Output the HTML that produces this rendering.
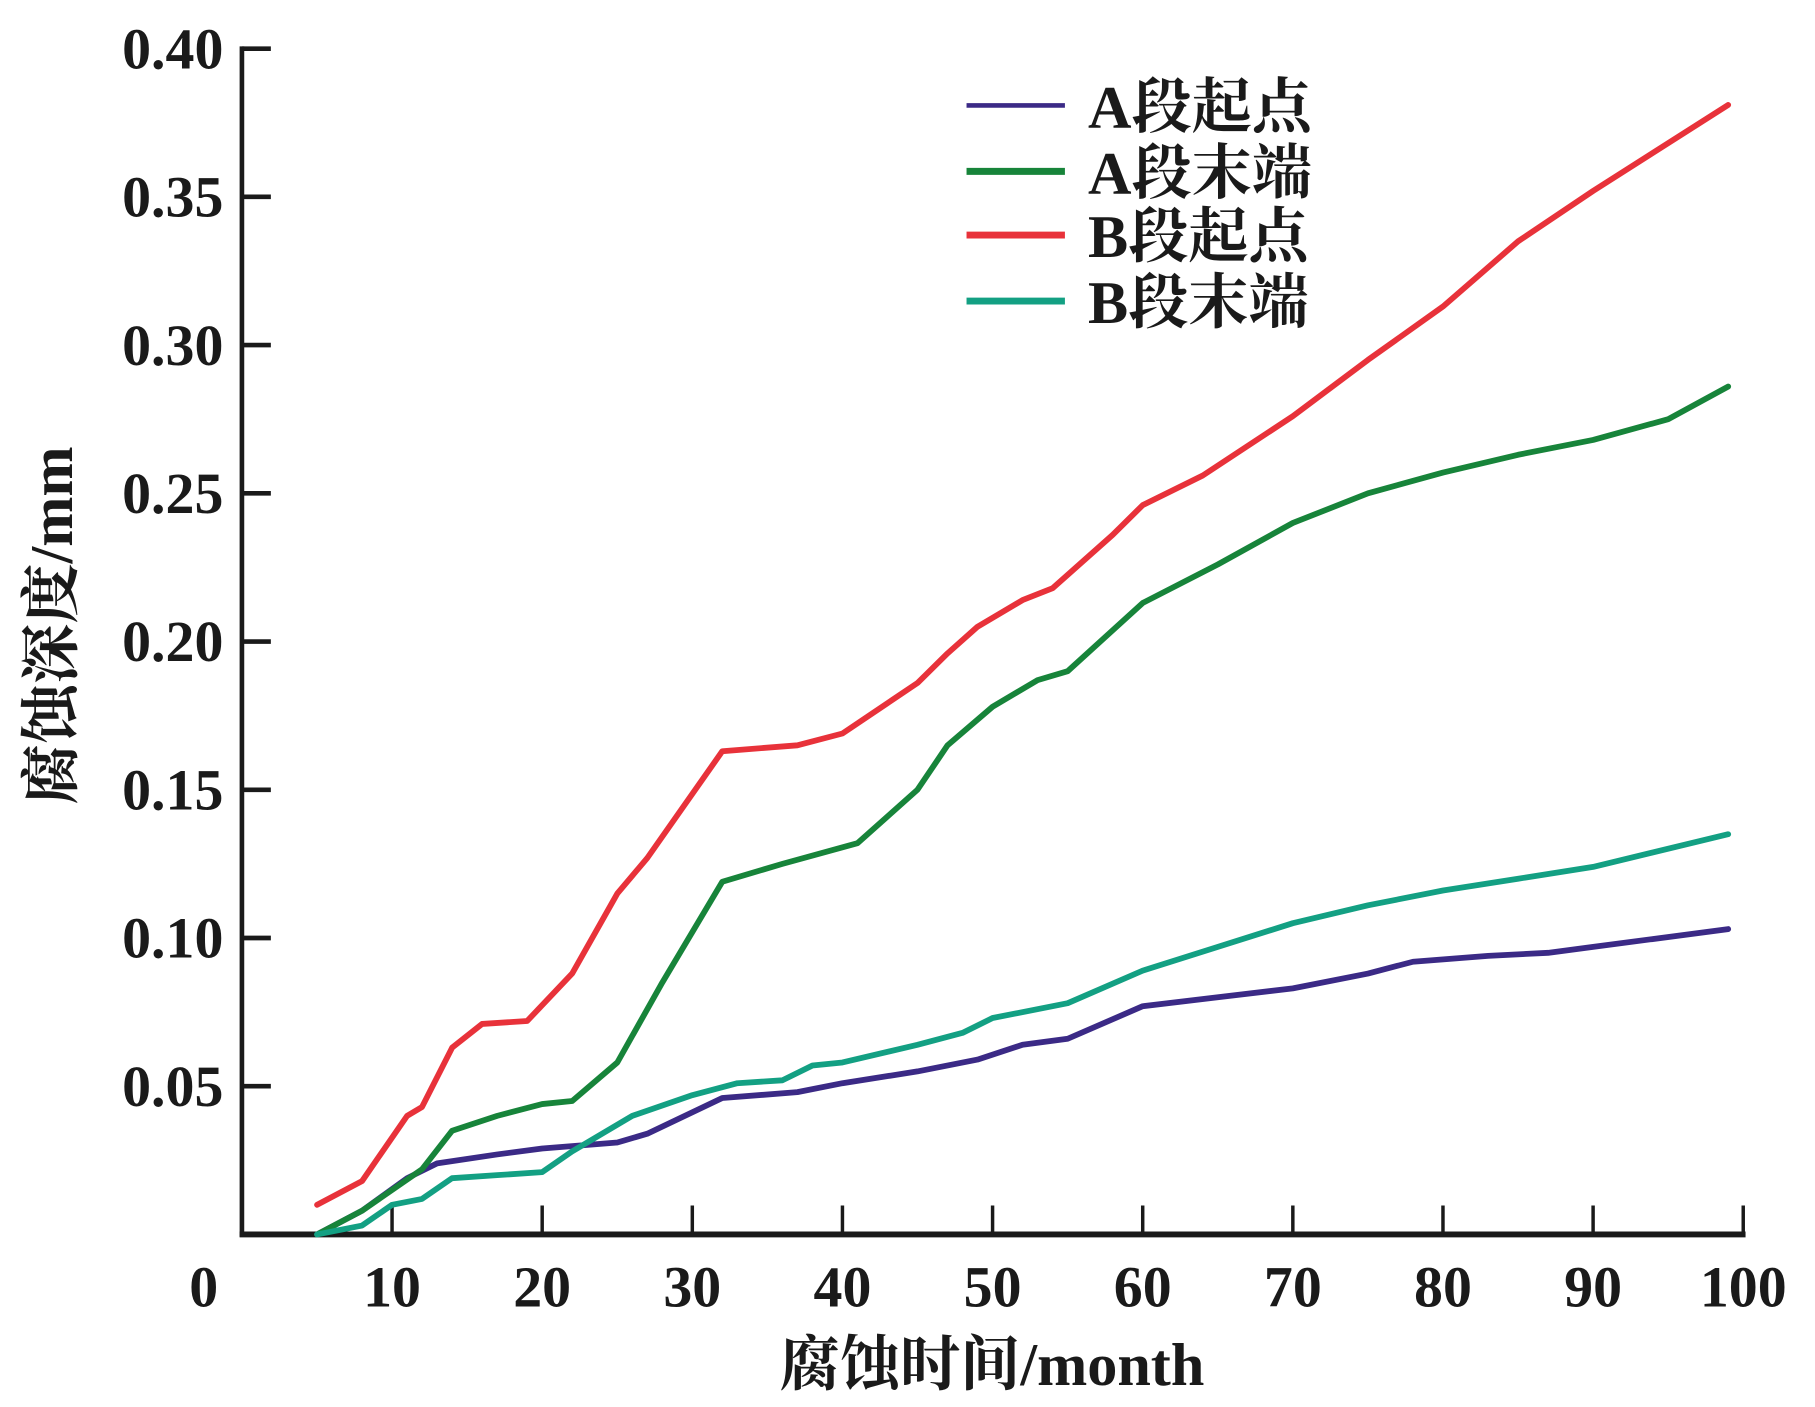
<!DOCTYPE html>
<html><head><meta charset="utf-8">
<style>
html,body{margin:0;padding:0;background:#fff;}
svg{display:block;}
text{font-family:"Liberation Serif","Noto Serif CJK SC",serif;font-weight:bold;fill:#1a1a1a;}
</style></head>
<body>
<svg id="chart" width="1815" height="1407" viewBox="0 0 1568 1215" preserveAspectRatio="none" xmlns="http://www.w3.org/2000/svg">
<g id="axes"></g>
<g id="series"></g>
<g id="legend"></g>
<text x="857" y="1196" font-size="52" text-anchor="middle">腐蚀时间/month</text>
<text transform="translate(62,540) rotate(-90)" font-size="52" text-anchor="middle">腐蚀深度/mm</text>
</svg>
<script>
const xTicks = [0,10,20,30,40,50,60,70,80,90,100];
const yTicks = [0.05,0.10,0.15,0.20,0.25,0.30,0.35,0.40];
const yTickLabels = ["0.05","0.10","0.15","0.20","0.25","0.30","0.35","0.40"];
const seriesNames = ["A段起点","A段末端","B段起点","B段末端"];
const seriesColors = ["#3b2a86","#17843a","#e8323a","#13a083"];
const aStartX = [5,8,11,13,17,20,25,27,32,37,40,45,49,52,55,60,65,70,75,78,83,87,90,99];
const aStartY = [0,0.008,0.019,0.024,0.027,0.029,0.031,0.034,0.046,0.048,0.051,0.055,0.059,0.064,0.066,0.077,0.08,0.083,0.088,0.092,0.094,0.095,0.097,0.103];
const aEndX = [5,8,12,14,17,20,22,25,28,32,36,41,45,47,50,53,55,60,65,70,75,80,85,90,95,99];
const aEndY = [0,0.008,0.022,0.035,0.04,0.044,0.045,0.058,0.085,0.119,0.125,0.132,0.15,0.165,0.178,0.187,0.19,0.213,0.226,0.24,0.25,0.257,0.263,0.268,0.275,0.286];
const bStartX = [5,8,11,12,14,16,19,22,25,27,32,37,40,45,47,49,52,54,58,60,64,70,75,80,85,90,99];
const bStartY = [0.01,0.018,0.04,0.043,0.063,0.071,0.072,0.088,0.115,0.127,0.163,0.165,0.169,0.186,0.196,0.205,0.214,0.218,0.236,0.246,0.256,0.276,0.295,0.313,0.335,0.352,0.381];
const bEndX = [5,8,10,12,14,17,20,22,26,30,33,36,38,40,45,48,50,55,60,65,70,75,80,85,90,99];
const bEndY = [0,0.003,0.01,0.012,0.019,0.02,0.021,0.028,0.04,0.047,0.051,0.052,0.057,0.058,0.064,0.068,0.073,0.078,0.089,0.097,0.105,0.111,0.116,0.12,0.124,0.135];

const X0=209, XS=12.97, Y0=1066, YS=2560;
function sx(v){return X0+v*XS;}
function sy(v){return Y0-v*YS;}
const NS="http://www.w3.org/2000/svg";
function mk(tag,attrs,parent){const e=document.createElementNS(NS,tag);for(const k in attrs)e.setAttribute(k,attrs[k]);parent.appendChild(e);return e;}

const axes=document.getElementById('axes');
let l=mk('line',{x1:X0,y1:sy(0.40)-2,x2:X0,y2:Y0+2,stroke:'#1a1a1a','stroke-width':4},axes);


l=mk('line',{x1:X0-2,y1:Y0,x2:sx(100)+2,y2:Y0,stroke:'#1a1a1a','stroke-width':5},axes);


xTicks.forEach(v=>{
  if(v>0){const t=mk('line',{x1:sx(v),y1:Y0-25,x2:sx(v),y2:Y0,stroke:'#1a1a1a','stroke-width':3},axes);
  
  }
  const tx=mk('text',{x:sx(v)+(v===0?-33:0),y:1128,'font-size':50,'text-anchor':'middle'},axes);
  tx.textContent=String(v);
  
  
});
yTicks.forEach((v,i)=>{
  const t=mk('line',{x1:X0,y1:sy(v),x2:X0+25,y2:sy(v),stroke:'#1a1a1a','stroke-width':4},axes);
  
  
  const tx=mk('text',{x:193,y:sy(v)+17,'font-size':50,'text-anchor':'end'},axes);
  tx.textContent=yTickLabels[i];
  
  
});

const ser=document.getElementById('series');
const data=[[aStartX,aStartY],[aEndX,aEndY],[bStartX,bStartY],[bEndX,bEndY]];
const serNames=['line-a-start','line-a-end','line-b-start','line-b-end'];
data.forEach((d,i)=>{
  const pts=d[0].map((x,j)=>sx(x).toFixed(1)+','+sy(d[1][j]).toFixed(1)).join(' ');
  const p=mk('polyline',{points:pts,fill:'none',stroke:seriesColors[i],'stroke-width':5,'stroke-linejoin':'round','stroke-linecap':'round'},ser);
  
  
});

const leg=document.getElementById('legend');
const legY=[91,148,203,260];
seriesNames.forEach((n,i)=>{
  const g=mk('g',{},leg);
  
  
  mk('line',{x1:835,y1:legY[i],x2:920,y2:legY[i],stroke:seriesColors[i],'stroke-width':i===0?4:6},g);
  const t=mk('text',{x:940,y:legY[i]+19,'font-size':52},g);
  t.textContent=n;
});
</script>
</body></html>
